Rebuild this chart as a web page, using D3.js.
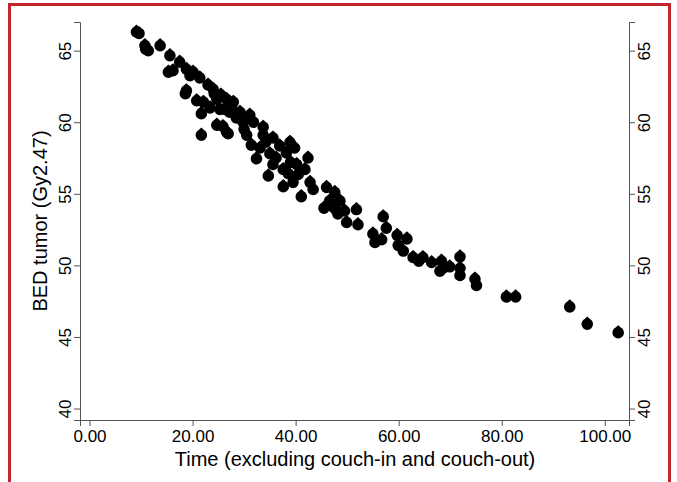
<!DOCTYPE html>
<html>
<head>
<meta charset="utf-8">
<script src="https://cdn.jsdelivr.net/npm/d3@7"></script>
<style>
  body { margin: 0; background: #fff; }
  text { font-family: "Liberation Sans", Arial, Helvetica, sans-serif; }
</style>
</head>
<body>
<script>
// Time (minutes) and BED values
const timeVals = [
  9.1, 9.6, 10.75, 10.9, 11.4, 13.7, 15.6, 15.3, 16.2, 17.5, 18.8, 19.5, 20.1, 21.4,
  18.8, 18.6, 20.8, 21.7, 23.0, 24.0, 22.1, 24.7, 26.6, 24.7, 26.9, 21.7, 25.3, 23.4,
  27.2, 27.9, 26.3, 29.2, 31.1, 26.6, 25.9, 29.8, 31.8, 33.7, 30.5, 31.4, 33.7, 35.6,
  33.1, 32.4, 35.0, 36.9, 38.9, 39.8, 38.2, 35.6, 37.6, 34.7, 40.2, 42.4, 41.8, 40.5,
  37.6, 39.5, 42.8, 43.4, 46.0, 47.6, 41.1, 46.6, 48.6, 49.5, 51.8, 49.9, 52.1, 47.2,
  45.5, 47.8, 48.2, 36.2, 38.6, 39.0, 34.2, 30.0, 28.5, 27.5, 25.5, 24.2,
  57.0, 55.0, 55.4, 56.7, 57.6, 59.7, 61.6, 59.9, 60.9, 62.8, 63.9, 64.7, 66.4, 68.3,
  68.0, 68.6, 69.9, 71.9, 71.9, 71.9, 74.8, 75.1, 80.9, 82.7, 93.2, 96.6, 102.6
];
const bedVals = [
  66.3, 66.2, 65.35, 65.1, 65.0, 65.35, 64.65, 63.5, 63.6, 64.2, 63.7, 63.25, 63.5, 63.1,
  62.2, 62.0, 61.5, 60.6, 62.6, 62.3, 61.4, 61.6, 61.6, 59.8, 59.2, 59.1, 60.9, 61.0,
  60.7, 61.4, 60.9, 60.7, 60.5, 59.3, 59.7, 60.0, 60.0, 59.65, 59.1, 58.4, 59.1, 58.9,
  58.2, 57.45, 57.8, 58.35, 58.6, 58.2, 57.85, 57.05, 56.7, 56.25, 57.05, 57.5, 56.7, 56.35,
  55.5, 55.8, 55.8, 55.3, 55.45, 55.1, 54.8, 54.5, 54.5, 53.8, 53.9, 53.0, 52.85, 54.1,
  54.0, 53.9, 53.6, 57.5, 56.4, 57.2, 58.6, 59.5, 60.3, 61.0, 61.9, 62.0,
  53.4, 52.2, 51.6, 51.8, 52.6, 52.1, 51.85, 51.4, 51.0, 50.55, 50.3, 50.55, 50.2, 50.3,
  49.6, 49.8, 49.9, 50.6, 49.8, 49.3, 49.05, 48.6, 47.8, 47.8, 47.1, 45.9, 45.3
];
const xTicks = [0, 20, 40, 60, 80, 100];
const yTicks = [40, 45, 50, 55, 60, 65];

const config = { width: 677, height: 482 };

const svg = d3.select("body").append("svg")
  .attr("width", config.width)
  .attr("height", config.height);

// red frame round the figure
svg.append("rect")
  .attr("x", 9.5).attr("y", 4.5)
  .attr("width", 660).attr("height", 495)
  .attr("fill", "none")
  .attr("stroke", "#c1272d")
  .attr("stroke-width", 3);

const x = d3.scaleLinear().domain([-1.85, 104.7]).range([80, 629]);
const y = d3.scaleLinear().domain([39.2, 67]).range([420, 22]);

const axisColor = "#555";
const tickFont = "17px";

// x axis
const gx = svg.append("g")
  .attr("transform", "translate(0,420)")
  .call(d3.axisBottom(x).tickValues(xTicks).tickSizeOuter(0).tickSize(6)
    .tickFormat(d3.format(".2f")));
gx.selectAll("text").attr("font-size", tickFont).attr("fill", "#000").attr("y", 10);

// left y axis
const gy = svg.append("g")
  .attr("transform", "translate(80,0)")
  .call(d3.axisLeft(y).tickValues(yTicks).tickSizeOuter(0).tickSize(6));
gy.selectAll("text")
  .attr("font-size", tickFont).attr("fill", "#000")
  .attr("transform", "rotate(-90)")
  .attr("x", 0).attr("y", -9).attr("dy", 0)
  .attr("text-anchor", "middle");

// right y axis
const gy2 = svg.append("g")
  .attr("transform", "translate(629,0)")
  .call(d3.axisRight(y).tickValues(yTicks).tickSizeOuter(0).tickSize(6));
gy2.selectAll("text")
  .attr("font-size", tickFont).attr("fill", "#000")
  .attr("transform", "rotate(-90)")
  .attr("x", 0).attr("y", 21).attr("dy", 0)
  .attr("text-anchor", "middle");

svg.selectAll(".domain, .tick line").attr("stroke", axisColor);

// axis titles
svg.append("text")
  .text("Time (excluding couch-in and couch-out)")
  .attr("x", 355).attr("y", 466)
  .attr("text-anchor", "middle")
  .attr("font-size", "20px");

svg.append("text")
  .text("BED tumor (Gy2.47)")
  .attr("transform", "translate(47,221) rotate(-90)")
  .attr("text-anchor", "middle")
  .attr("font-size", "20px");

// circle marker with a little peak on top, like the scan shows
const blob = {
  draw(context, size) {
    const r = Math.sqrt(size / Math.PI);
    context.moveTo(r, 0);
    context.arc(0, 0, r, 0, 2 * Math.PI);
    context.moveTo(-r * 0.55, -r * 0.8);
    context.lineTo(0, -r * 1.3);
    context.lineTo(r * 0.55, -r * 0.8);
    context.closePath();
  }
};

const points = timeVals.map((t, i) => ({ t: t, b: bedVals[i] }));

svg.append("g")
  .selectAll("path")
  .data(points)
  .enter()
  .append("path")
  .attr("d", d3.symbol().type(blob).size(Math.PI * 5.8 * 5.8))
  .attr("transform", d => `translate(${x(d.t)},${y(d.b)})`)
  .attr("fill", "#000");
</script>
</body>
</html>
